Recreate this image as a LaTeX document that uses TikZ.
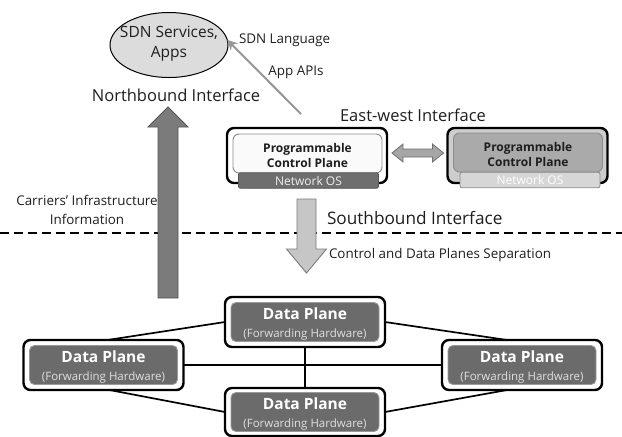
\documentclass[tikz,border=0pt]{standalone}
\usepackage{fontspec}
\setmainfont{Open Sans}
\usetikzlibrary{calc,arrows.meta,shapes.geometric}

\definecolor{ink}{HTML}{1E1E1E}
\definecolor{dpfill}{HTML}{6B6B6B}
\definecolor{dpedge}{HTML}{9A9A9A}
\definecolor{appsfill}{HTML}{DCDCDC}
\definecolor{nbfill}{HTML}{7B7B7B}
\definecolor{nbedge}{HTML}{545454}
\definecolor{sbfill}{HTML}{C6C6C6}
\definecolor{sbedge}{HTML}{7C7C7C}
\definecolor{ewfill}{HTML}{A6A6A6}
\definecolor{ewedge}{HTML}{6E6E6E}
\definecolor{apiline}{HTML}{969696}
\definecolor{cpLcore}{HTML}{FAFAFA}
\definecolor{cpedge}{HTML}{8C8C8C}
\definecolor{nosdark}{HTML}{6E6E6E}
\definecolor{nosdarkedge}{HTML}{565656}
\definecolor{cpRbox}{HTML}{CDCDCD}
\definecolor{cpRcore}{HTML}{AAAAAA}
\definecolor{noslight}{HTML}{D6D6D6}

\begin{document}
\begin{tikzpicture}[x=1pt,y=-1pt,
  every node/.style={inner sep=0pt, outer sep=0pt, text=ink},
  dpbox/.style={draw=black, line width=2.4pt, rounded corners=7pt, fill=white,
    minimum width=160pt, minimum height=50pt},
  dpcore/.style={draw=dpedge, line width=0.9pt, rounded corners=5pt, fill=dpfill,
    minimum width=148pt, minimum height=39pt},
  dptext/.style={align=center, text=white, font=\fontsize{11.5}{18}\selectfont},
  cpbox/.style={draw=black, line width=2.4pt, rounded corners=7pt,
    minimum width=160pt, minimum height=55pt},
  cpcore/.style={draw=cpedge, line width=0.9pt, rounded corners=6pt,
    minimum width=149pt, minimum height=39pt},
  cptext/.style={align=center, font=\fontsize{12}{15}\selectfont\bfseries},
  nosbar/.style={line width=0.9pt, rounded corners=2pt, minimum width=140pt,
    minimum height=15.5pt, font=\fontsize{12}{12}\selectfont},
  link/.style={line width=1.7pt, draw=black},
  lbl/.style={font=\fontsize{13.4}{15}\selectfont},
  biglbl/.style={font=\fontsize{16.5}{20}\selectfont},
  divider/.style={line width=2.2pt, dash pattern=on 9pt off 5pt},
  api/.style={line width=2pt, draw=apiline, -{Stealth[length=10pt,width=10pt]}}
]
\useasboundingbox (0,0) rectangle (622,437);

% ---- divider between control and data layers
\coordinate (dashL) at (0,233);
\coordinate (dashR) at (622,233);
\draw[divider] (dashL) -- (dashR);

% ---- applications
\node[ellipse, draw=black, line width=1pt, fill=appsfill, minimum width=118pt,
  minimum height=65pt] (apps) at (169,45) {};
\node[align=center, font=\fontsize{15.5}{20}\selectfont] (appsText) at ($(apps.center)+(0,-1)$)
  {SDN Services,\\Apps};
\coordinate (apiFoot) at (301,114);
\draw[api] (apiFoot) -- (apps.5);
\node[lbl, anchor=west] (sdnlang) at (239,40) {SDN Language};
\node[lbl] (appapi) at (296,72) {App APIs};
\node[biglbl] (nbi) at (176,95) {Northbound Interface};
\node[biglbl] (ewi) at (413,115) {East-west Interface};
\node[biglbl, anchor=west, font=\fontsize{17.2}{20}\selectfont] (sbi) at (327,218) {Southbound Interface};
\node[lbl, anchor=west] (sep) at (329,255) {Control and Data Planes Separation};
\node[lbl, align=center, font=\fontsize{13.4}{19}\selectfont] (carriers) at (87,210)
  {Carriers' Infrastructure\\Information};

% ---- northbound arrow
\coordinate (nbFoot) at (168,298);
\coordinate (nbTip) at (168,107);
\draw[draw=nbedge, fill=nbfill, line width=0.9pt, line join=miter]
  ($(nbFoot)+(-10,0)$) -- ($(nbTip)+(-10,20)$) -- ($(nbTip)+(-20,20)$) -- (nbTip)
  -- ($(nbTip)+(20,20)$) -- ($(nbTip)+(10,20)$) -- ($(nbFoot)+(10,0)$) -- cycle;

% ---- control planes
\node[cpbox, fill=white] (cpL) at (307,155.5) {};
\node[cpcore, fill=cpLcore] (cpLi) at (307.5,153.5) {};
\node[cptext] at ($(cpLi.center)+(0,1.5)$) {Programmable\\Control Plane};
\node[nosbar, draw=nosdarkedge, fill=nosdark, text=white!94!black] (nosL) at (308.5,180.5) {Network OS};

\node[cpbox, fill=cpRbox] (cpR) at (527.5,155.5) {};
\node[cpcore, fill=cpRcore] (cpRi) at (528,152.5) {};
\node[cptext] at ($(cpRi.center)+(0,1.5)$) {Programmable\\Control Plane};
\node[nosbar, draw=cpedge, fill=noslight, text=white] (nosR) at (530,180) {Network OS};

% ---- east-west double arrow
\coordinate (ewL) at ($(cpL.east)+(5,-2.5)$);
\coordinate (ewR) at ($(cpR.west)+(-4,-2.5)$);
\draw[draw=ewedge, fill=ewfill, line width=0.8pt]
  (ewL) -- ($(ewL)+(11,-9)$) -- ($(ewL)+(11,-4)$) -- ($(ewR)+(-11,-4)$)
  -- ($(ewR)+(-11,-9)$) -- (ewR) -- ($(ewR)+(-11,9)$) -- ($(ewR)+(-11,4)$)
  -- ($(ewL)+(11,4)$) -- ($(ewL)+(11,9)$) -- cycle;

% ---- southbound arrow
\coordinate (sbTop) at (306.5,199);
\coordinate (sbTip) at (306.5,273);
\draw[draw=sbedge, fill=sbfill, line width=0.9pt, line join=miter]
  ($(sbTop)+(-9.5,0)$) -- ($(sbTip)+(-9.5,-24)$) -- ($(sbTip)+(-20,-24)$) -- (sbTip)
  -- ($(sbTip)+(20,-24)$) -- ($(sbTip)+(9.5,-24)$) -- ($(sbTop)+(9.5,0)$) -- cycle;

% ---- data planes
\node[dpbox] (dpT) at (305,322) {};
\node[dpbox] (dpL) at (103.5,365) {};
\node[dpbox] (dpR) at (522,365) {};
\node[dpbox, minimum height=48pt] (dpB) at (305,412) {};
\foreach \n in {dpT,dpL,dpR,dpB}{
  \node[dpcore, minimum height=39pt] (\n i) at (\n.center) {};
  \node[dptext] at ($(\n i.center)+(0,2)$)
    {{\fontsize{15.5}{18}\selectfont\bfseries Data Plane}\\{\color{white!88!black}(Forwarding Hardware)}};
}

% ---- links between data planes
\draw[link] (dpT.west) -- ($(dpL.north)+(4,0)$);
\draw[link] (dpT.east) -- ($(dpR.north)+(-15,0)$);
\draw[link] (dpL.east) -- (dpR.west);
\draw[link] (dpT.south) -- (dpB.north);
\draw[link] ($(dpL.south)+(6,0)$) -- (dpB.west);
\draw[link] ($(dpR.south)+(-15,0)$) -- (dpB.east);
\end{tikzpicture}
\end{document}
